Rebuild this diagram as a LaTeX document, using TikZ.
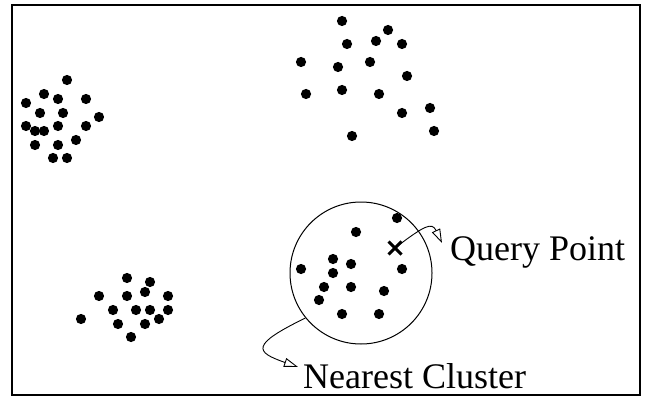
\documentclass[tikz,border=0pt]{standalone}
\usepackage{fontspec}
\setmainfont{Liberation Serif}
\usetikzlibrary{arrows.meta, shapes.misc}
\tikzset{
  pt/.style      = {circle, fill=black, inner sep=0pt, minimum size=10.2pt},
  region/.style  = {circle, draw, line width=1pt, minimum size=142pt, inner sep=0pt},
  qmark/.style   = {cross out, draw, line width=3pt, minimum size=10pt, inner sep=0pt},
  lbl/.style     = {font=\fontsize{36}{40}\selectfont, inner sep=0pt, anchor=base west},
  arr/.style     = {-{Triangle[open, length=14pt, width=9pt]}, line width=0.9pt}
}

\begin{document}
\begin{tikzpicture}[x=1pt, y=-1pt]
  \useasboundingbox (0,0) rectangle (647,398);
  \draw[line width=2.6pt] (12,5) rectangle (640,395);

  % left cluster
  \foreach \x/\y in {67/80, 44/94, 58/99, 86/99, 26/103, 40/113, 63/113, 99/117,
                     26/126, 35/131, 44/131, 58/126, 86/126, 76/140, 35/145,
                     58/145, 53/158, 67/158}
    \node[pt] at (\x,\y) {};
  % top cluster
  \foreach \x/\y in {342/21, 388/30, 347/44, 376/41, 402/44, 301/62, 338/67,
                     370/62, 407/76, 306/94, 342/90, 379/94, 402/113, 430/108,
                     434/131, 352/136}
    \node[pt] at (\x,\y) {};
  % bottom cluster
  \foreach \x/\y in {127/278, 150/282, 145/292, 99/296, 127/296, 168/296,
                     113/310, 136/310, 150/310, 168/310, 81/319, 159/319,
                     118/324, 145/324, 131/337}
    \node[pt] at (\x,\y) {};
  % cluster inside the circle
  \foreach \x/\y in {397/218, 356/232, 333/259, 351/264, 301/269, 402/269,
                     333/273, 324/287, 351/287, 384/291, 319/300, 342/314,
                     379/314}
    \node[pt] at (\x,\y) {};

  \node[region] (cluster) at (361,273) {};
  \node[qmark]  (query)   at (395,248) {};

  \node[lbl] (qlabel) at (450,260) {Query Point};
  \node[lbl] (nlabel) at (303,388) {Nearest Cluster};

  \draw[arr] (query.center) .. controls (425,225) and (432,222) .. ([shift={(-8,-17)}]qlabel.base west);
  \draw[arr] (cluster.219) .. controls (250,345) and (255,352) .. ([shift={(-5,-21)}]nlabel.base west);
\end{tikzpicture}
\end{document}
